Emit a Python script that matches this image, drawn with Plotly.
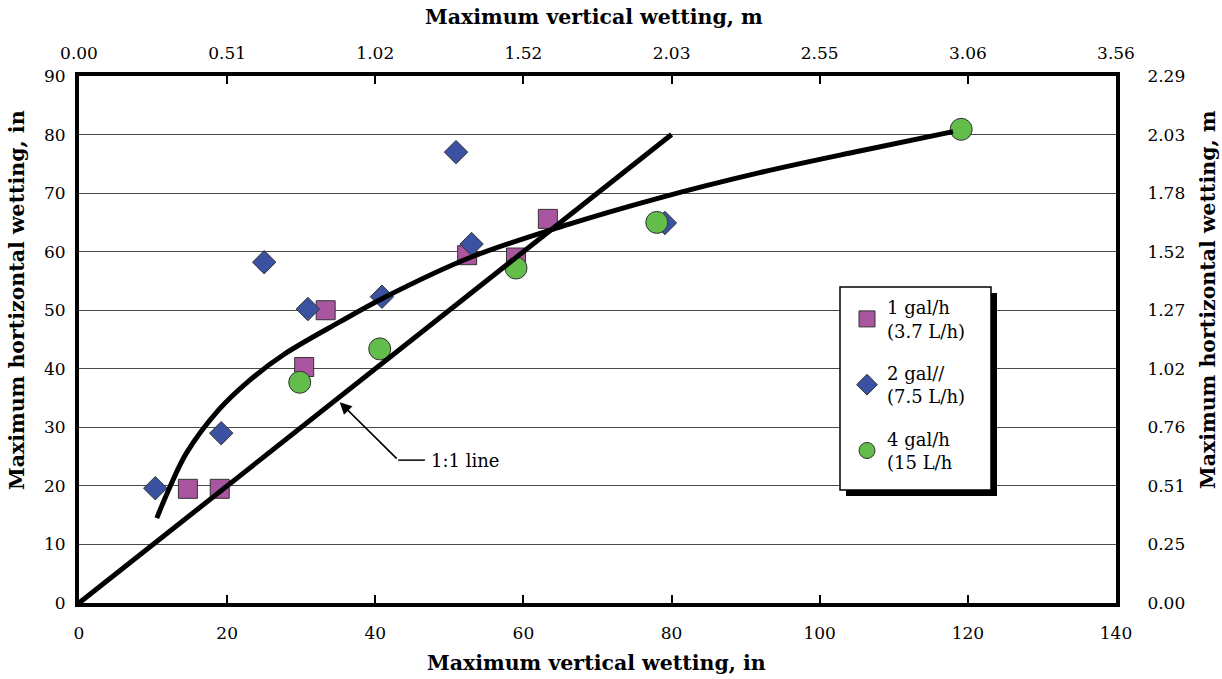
import plotly.graph_objects as go

# ---- data (inches) ----
sq_x = [14.7, 19.0, 30.4, 33.3, 52.4, 59.0, 63.3]
sq_y = [19.5, 19.5, 40.3, 50.0, 59.4, 59.0, 65.6]

di_x = [10.3, 19.2, 25.0, 30.9, 40.9, 50.9, 53.0, 79.1]
di_y = [19.6, 29.0, 58.2, 50.2, 52.3, 77.0, 61.3, 64.9]

ci_x = [29.8, 40.6, 59.0, 78.0, 119.1]
ci_y = [37.7, 43.4, 57.2, 65.0, 80.9]

one_x = [0, 80]
one_y = [0, 80]

fit_x = [10.5, 12.3, 14.5, 18.8, 23.1, 27.6, 35.2, 41.1, 52.8, 65.4, 78.4, 91.9, 105.4, 118.0]
fit_y = [14.5, 19.9, 25.6, 32.9, 38.1, 42.4, 48.0, 52.1, 59.0, 64.4, 69.2, 73.5, 77.2, 80.5]

x_ticks = [0, 20, 40, 60, 80, 100, 120, 140]
x_ticks_m = ["0.00", "0.51", "1.02", "1.52", "2.03", "2.55", "3.06", "3.56"]
y_ticks = [0, 10, 20, 30, 40, 50, 60, 70, 80, 90]
y_ticks_m = ["0.00", "0.25", "0.51", "0.76", "1.02", "1.27", "1.52", "1.78", "2.03", "2.29"]

FONT = "DejaVu Serif"
W, H = 1222, 679
L, R, T, B = 79, 106, 76, 76
PW, PH = W - L - R, H - T - B


def px(xp):
    return (xp - L) / PW


def py(yp):
    return (H - B - yp) / PH


fig = go.Figure()

mline = dict(color="#333333", width=1)
fig.add_trace(go.Scatter(x=sq_x, y=sq_y, mode="markers", name="1 gal/h<br>(3.7 L/h)",
                         legendgroup="a",
                         marker=dict(symbol="square", size=19, color="#AA55A0", line=mline)))
fig.add_trace(go.Scatter(x=di_x, y=di_y, mode="markers", name="2 gal//<br>(7.5 L/h)",
                         legendgroup="b",
                         marker=dict(symbol="diamond", size=18, color="#3B52A3", line=mline)))
fig.add_trace(go.Scatter(x=ci_x, y=ci_y, mode="markers", name="4 gal/h<br>(15 L/h",
                         legendgroup="c",
                         marker=dict(symbol="circle", size=22, color="#62BD4A", line=mline)))
fig.add_trace(go.Scatter(x=one_x, y=one_y, mode="lines", showlegend=False,
                         line=dict(color="black", width=5), hoverinfo="skip"))
fig.add_trace(go.Scatter(x=fit_x, y=fit_y, mode="lines", showlegend=False,
                         line=dict(color="black", width=5, shape="spline", smoothing=1.0),
                         hoverinfo="skip"))
# invisible trace to activate secondary (top/right) axes
fig.add_trace(go.Scatter(x=one_x, y=one_y, xaxis="x2", yaxis="y2", mode="lines",
                         showlegend=False, opacity=0, hoverinfo="skip"))

tickfont = dict(family=FONT, size=17, color="black")
fig.update_layout(
    width=W, height=H,
    margin=dict(l=L, r=R, t=T, b=B, autoexpand=False),
    plot_bgcolor="white", paper_bgcolor="white",
    font=dict(family=FONT, color="black"),
    xaxis=dict(range=[0, 140], tickvals=x_ticks, showgrid=False, zeroline=False,
               showline=True, linecolor="black", linewidth=4,
               ticks="inside", ticklen=8, tickwidth=1.5, tickcolor="black",
               tickfont=tickfont, ticklabelstandoff=12),
    xaxis2=dict(range=[0, 140], overlaying="x", side="top", tickvals=x_ticks, ticktext=x_ticks_m,
                showgrid=False, zeroline=False, showline=True, linecolor="black", linewidth=4,
                ticks="inside", ticklen=8, tickwidth=1.5, tickcolor="black",
                tickfont=tickfont, ticklabelstandoff=6),
    yaxis=dict(range=[0, 90], tickvals=y_ticks, showgrid=True, gridcolor="#4a4a4a", gridwidth=1,
               zeroline=False, showline=True, linecolor="black", linewidth=4, ticks="",
               tickfont=tickfont, ticklabelstandoff=6),
    yaxis2=dict(range=[0, 90], overlaying="y", side="right", tickvals=y_ticks, ticktext=y_ticks_m,
                showgrid=False, zeroline=False, showline=True, linecolor="black", linewidth=4,
                ticks="", tickfont=tickfont, ticklabelstandoff=24),
    legend=dict(x=px(847), y=py(289), xanchor="left", yanchor="top",
                bgcolor="rgba(0,0,0,0)", borderwidth=0,
                font=dict(family=FONT, size=18, color="black"),
                tracegroupgap=16),
    showlegend=True,
)

# legend box with drop shadow
fig.add_shape(type="rect", xref="paper", yref="paper",
              x0=px(846), x1=px(997), y0=py(496), y1=py(293),
              fillcolor="black", line=dict(width=0), layer="above")
fig.add_shape(type="rect", xref="paper", yref="paper",
              x0=px(840), x1=px(991), y0=py(490), y1=py(287),
              fillcolor="white", line=dict(color="black", width=1.5), layer="above")

# axis titles
title_font = dict(family=FONT, size=20.5, color="black")
common = dict(xref="paper", yref="paper", showarrow=False, font=title_font,
              xanchor="center", yanchor="middle")
fig.add_annotation(text="<b>Maximum vertical wetting, in</b>", x=px(596), y=py(663), **common)
fig.add_annotation(text="<b>Maximum vertical wetting, m</b>", x=px(594), y=py(17), **common)
fig.add_annotation(text="<b>Maximum hortizontal wetting, in</b>", x=px(17), y=py(300),
                   textangle=-90, **common)
fig.add_annotation(text="<b>Maximum hortizontal wetting, m</b>", x=px(1208), y=py(300),
                   textangle=-90, **common)

# 1:1 line label with arrow
fig.add_annotation(x=35.2, y=34.3, ax=43.1, ay=24.4, axref="x", ayref="y", xref="x", yref="y",
                   text="", showarrow=True, arrowhead=2, arrowsize=1.6, arrowwidth=1.5,
                   arrowcolor="black")
fig.add_shape(type="line", xref="x", yref="y", x0=43.1, x1=46.7, y0=24.4, y1=24.4,
              line=dict(color="black", width=1.5))
fig.add_annotation(x=47.3, y=24.4, xref="x", yref="y", text="1:1 line", showarrow=False,
                   xanchor="left", font=dict(family=FONT, size=18, color="black"))

fig.write_html("out.html", config={"displayModeBar": False},
               post_script="document.body.style.margin='0';document.body.style.padding='0';")
